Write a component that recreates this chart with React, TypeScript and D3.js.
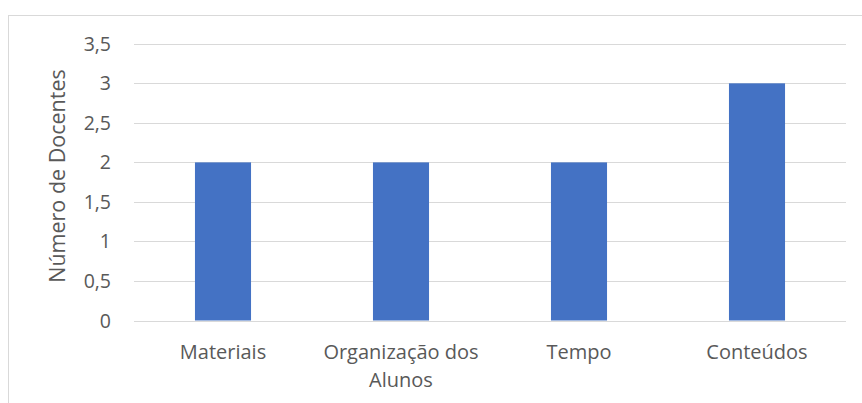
import React from "react";
import * as d3 from "d3";

const categories = ["Materiais", "Organização dos|Alunos", "Tempo", "Conteúdos"];
const values = [2, 2, 2, 3];
const yTicks = [0, 0.5, 1, 1.5, 2, 2.5, 3, 3.5];
const yTitle = "Número de Docentes";

const W = 862;
const H = 403;
const FONT = "'Open Sans', sans-serif";

export default function App() {
  const x = d3
    .scaleBand<string>()
    .domain(categories)
    .range([134, 846])
    .paddingInner(0.685)
    .paddingOuter(0.3425);
  const y = d3.scaleLinear().domain([0, 3.5]).range([320.5, 43.8]);
  const fmt = (v: number) => String(v).replace(".", ",");

  return (
    <svg
      width={W}
      height={H}
      style={{ position: "absolute", left: 0, top: 0, background: "#fff" }}
    >
      <rect x={8.5} y={15.5} width={W} height={H} fill="#fff" stroke="#d9d9d9" strokeWidth={1} />
      {yTicks.map((t) => (
        <g key={t}>
          <line x1={134} x2={846} y1={Math.round(y(t)) + 0.5} y2={Math.round(y(t)) + 0.5} stroke="#d9d9d9" strokeWidth={1} />
          <text
            x={111}
            y={y(t) + 7}
            textAnchor="end"
            fontFamily={FONT}
            fontSize={19.5}
            fill="#595959"
          >
            {fmt(t)}
          </text>
        </g>
      ))}
      {categories.map((c, i) => (
        <rect
          key={c}
          x={x(c)}
          y={y(values[i])}
          width={x.bandwidth()}
          height={y(0) - y(values[i])}
          fill="#4472c4"
        />
      ))}
      {categories.map((c) => {
        const lines = c.split("|");
        const cx = (x(c) as number) + x.bandwidth() / 2;
        return (
          <text key={c} textAnchor="middle" fontFamily={FONT} fontSize={20} fill="#595959">
            {lines.map((l, j) => (
              <tspan key={j} x={cx} y={359 + j * 28}>
                {l}
              </tspan>
            ))}
          </text>
        );
      })}
      <text
        transform={`translate(65, 176) rotate(-90)`}
        textAnchor="middle"
        fontFamily={FONT}
        fontSize={21.5}
        fill="#595959"
      >
        {yTitle}
      </text>
    </svg>
  );
}
